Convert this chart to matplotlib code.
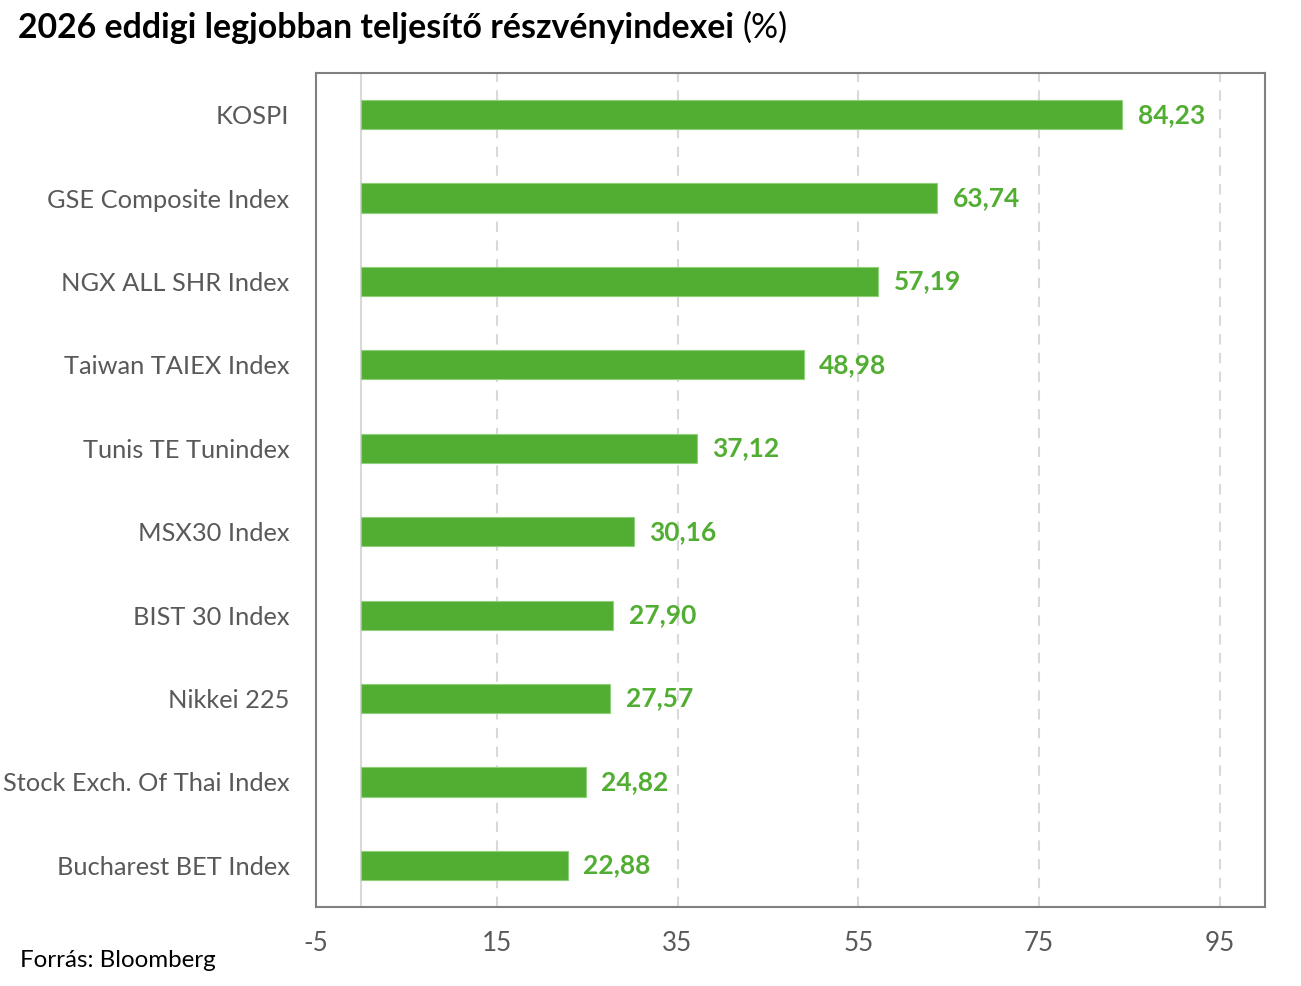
import matplotlib.pyplot as plt
from matplotlib.ticker import FixedLocator

plt.rcParams['font.family'] = ['Lato', 'DejaVu Sans']
plt.rcParams['axes.unicode_minus'] = False

indexek = ['KOSPI', 'GSE Composite Index', 'NGX ALL SHR Index', 'Taiwan TAIEX Index',
           'Tunis TE Tunindex', 'MSX30 Index', 'BIST 30 Index', 'Nikkei 225',
           'Stock Exch. Of Thai Index', 'Bucharest BET Index']
hozam = [84.23, 63.74, 57.19, 48.98, 37.12, 30.16, 27.90, 27.57, 24.82, 22.88]
x_tickek = [-5, 15, 35, 55, 75, 95]

zold = '#52AE32'

fig = plt.figure(figsize=(13.01, 9.86), dpi=100)
ax = fig.add_axes([0.2429, 0.0801, 0.7294, 0.8459])

y = list(range(len(indexek)))
ax.barh(y, hozam, height=0.35, color=zold, edgecolor='#8FD07A', linewidth=0.8, zorder=3)

for yi, v in zip(y, hozam):
    ax.text(v + 1.7, yi, f'{v:.2f}'.replace('.', ','), va='center', ha='left',
            color=zold, fontsize=19, fontweight='bold', zorder=4)

ax.set_xlim(-5, 100)
ax.set_ylim(len(indexek) - 0.5, -0.5)
ax.xaxis.set_major_locator(FixedLocator(x_tickek))
ax.set_yticks(y)
ax.set_yticklabels(indexek)
ax.tick_params(axis='both', length=0, labelsize=18.7, colors='#595959')
ax.tick_params(axis='y', pad=19, labelsize=18.3)
ax.tick_params(axis='x', pad=17)

# szaggatott rácsvonalak és a nulla vonal
for t in x_tickek[1:]:
    ax.axvline(t, color='#D9D9D9', lw=1.5, ls=(0, (5, 4)), zorder=1)
ax.axvline(0, color='#D9D9D9', lw=1.5, zorder=2)

for s in ax.spines.values():
    s.set_color('#808080')
    s.set_linewidth(1.5)

cim = fig.text(0.014, 0.972, '2026 eddigi legjobban teljesítő részvényindexei', fontsize=24.4,
               fontweight='bold', va='center', ha='left', color='black')
fig.canvas.draw()
bb = cim.get_window_extent().transformed(fig.transFigure.inverted())
fig.text(bb.x1 + 0.006, 0.972, '(%)', fontsize=24.4, va='center', ha='left', color='black')
fig.text(0.015, 0.026, 'Forrás: Bloomberg', fontsize=17.4, va='center', ha='left', color='black')

fig.savefig('out.png', dpi=100)
